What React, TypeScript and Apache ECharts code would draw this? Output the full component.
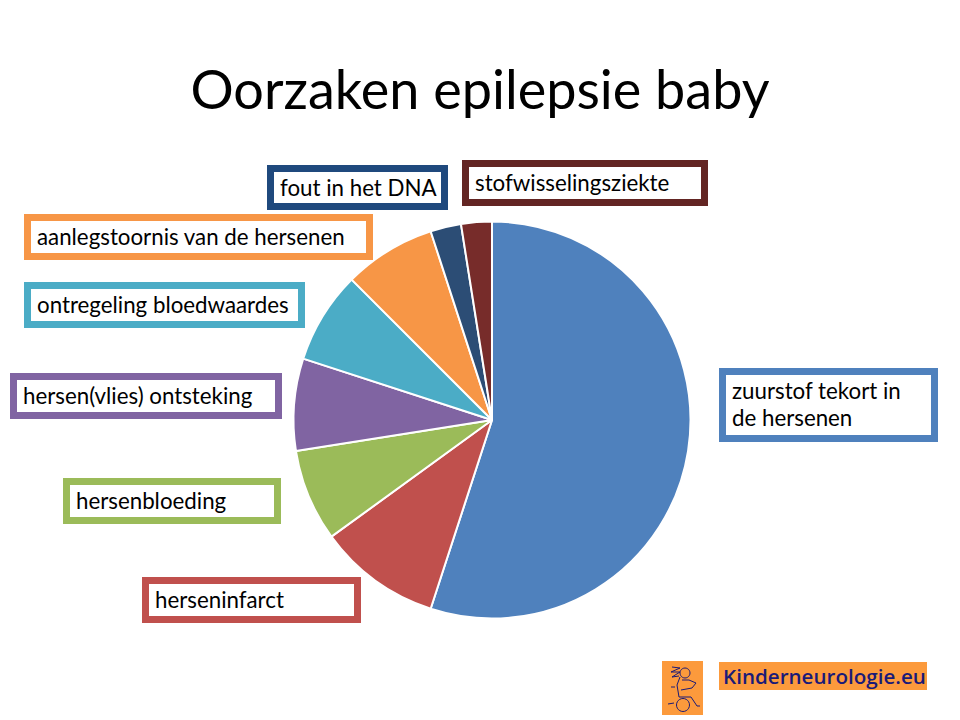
import React, { useEffect, useRef } from "react";
import * as echarts from "echarts";

const categories = [
  "zuurstof tekort in\nde hersenen",
  "herseninfarct",
  "hersenbloeding",
  "hersen(vlies) ontsteking",
  "ontregeling bloedwaardes",
  "aanlegstoornis van de hersenen",
  "fout in het DNA",
  "stofwisselingsziekte",
];
const values = [22, 4, 3, 3, 3, 3, 1, 1];
const sliceColors = ["#4F81BD", "#C0504D", "#9BBB59", "#8064A2", "#4BACC6", "#F79646", "#2C4D75", "#772C2A"];
const boxColors = ["#4F81BD", "#C0504D", "#9BBB59", "#8064A2", "#4BACC6", "#F79646", "#1F497D", "#632523"];
// outer label boxes: left, top, right, bottom
const boxes = [
  [719, 368, 938, 442],
  [142, 577, 361, 623],
  [63, 478, 281, 524],
  [10, 373, 282, 419],
  [24, 282, 305, 328],
  [24, 214, 373, 260],
  [267, 165, 448, 210],
  [462, 160, 708, 206],
];
const BORDER = 7;
const PAD_X = 6;
const PAD_TOP = 2;
const FONT = "Lato, 'Open Sans', sans-serif";

export default function App() {
  const ref = useRef<HTMLDivElement>(null);
  useEffect(() => {
    const chart = echarts.init(ref.current!, undefined, { renderer: "svg" });
    chart.setOption({
      animation: false,
      backgroundColor: "#fff",
      title: {
        text: "Oorzaken epilepsie baby",
        left: 475,
        top: 56,
        textAlign: "center",
        textStyle: { fontFamily: FONT, fontSize: 54, fontWeight: "normal", color: "#000" },
      },
      series: [
        {
          type: "pie",
          center: [492, 420],
          radius: [0, 198.5],
          startAngle: 90,
          clockwise: true,
          avoidLabelOverlap: false,
          itemStyle: { borderColor: "#fff", borderWidth: 2 },
          labelLine: { show: false },
          labelLayout: (p: any) => {
            const b = boxes[p.dataIndex];
            return { x: b[0] + BORDER, y: b[1] + BORDER, align: "left", verticalAlign: "top", hideOverlap: false };
          },
          data: categories.map((name, i) => {
            const b = boxes[i];
            return {
              name,
              value: values[i],
              itemStyle: { color: sliceColors[i] },
              label: {
                show: true,
                position: "outside",
                formatter: "{b}",
                fontFamily: FONT,
                fontSize: 22.3,
                lineHeight: 27,
                color: "#000",
                align: "left",
                verticalAlign: "middle",
                backgroundColor: "#fff",
                borderColor: boxColors[i],
                borderWidth: BORDER,
                borderRadius: 0,
                padding: [PAD_TOP, 0, 0, PAD_X],
                width: b[2] - b[0] - 2 * BORDER - PAD_X,
                height: b[3] - b[1] - 2 * BORDER - PAD_TOP,
              },
            };
          }),
        },
      ],
      graphic: [
        { type: "rect", shape: { x: 662, y: 661, width: 41, height: 54 }, style: { fill: "#FC9A3C" } },
        { type: "rect", shape: { x: 719, y: 662, width: 208, height: 28 }, style: { fill: "#FC9A3C" } },
        {
          type: "text",
          x: 723,
          y: 676,
          style: {
            text: "Kinderneurologie.eu",
            fill: "#1A1A78",
            font: "600 20.6px 'Open Sans', sans-serif",
            verticalAlign: "middle",
            align: "left",
          },
        },
        { type: "circle", shape: { cx: 685, cy: 673, r: 5 }, style: { fill: "none", stroke: "#1A1A78", lineWidth: 1 } },
        { type: "circle", shape: { cx: 683, cy: 705, r: 6.5 }, style: { fill: "none", stroke: "#1A1A78", lineWidth: 1 } },
        { type: "polyline", shape: { points: [[680, 677], [677, 685], [679, 697], [691, 697], [697, 706], [700, 706]] }, style: { fill: "none", stroke: "#1A1A78", lineWidth: 1 } },
        { type: "polyline", shape: { points: [[682, 680], [689, 680], [696, 683], [692, 688], [681, 690]] }, style: { fill: "none", stroke: "#1A1A78", lineWidth: 1 } },
        { type: "polyline", shape: { points: [[672, 667], [680, 668], [671, 672], [680, 672], [672, 677], [679, 676]] }, style: { fill: "none", stroke: "#1A1A78", lineWidth: 1 } },
        { type: "line", shape: { x1: 671, y1: 687, x2: 675, y2: 687 }, style: { stroke: "#1A1A78", lineWidth: 1 } },
        { type: "line", shape: { x1: 668, y1: 704, x2: 674, y2: 703 }, style: { stroke: "#1A1A78", lineWidth: 1 } },
      ],
    });
    return () => chart.dispose();
  }, []);
  return <div ref={ref} style={{ position: "fixed", left: 0, top: 0, width: 960, height: 720 }} />;
}
